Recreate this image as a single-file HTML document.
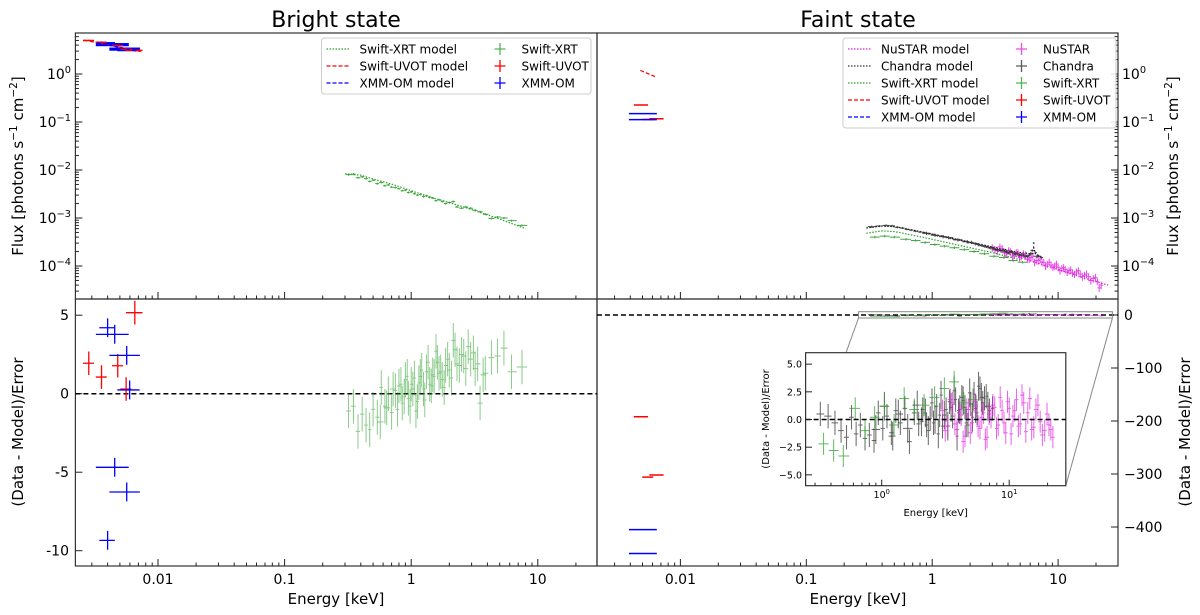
<!DOCTYPE html>
<html><head><meta charset="utf-8"><style>
html,body{margin:0;padding:0;background:#fff;}
svg{display:block;font-family:"DejaVu Sans","Liberation Sans",sans-serif;}
</style></head><body>
<svg id="fig" width="1200" height="615" viewBox="0 0 1200 615" xmlns="http://www.w3.org/2000/svg">
<defs>
<clipPath id="cLT"><rect x="75.4" y="33" width="521.6" height="266"/></clipPath>
<clipPath id="cLB"><rect x="75.4" y="299" width="521.6" height="267"/></clipPath>
<clipPath id="cRT"><rect x="597" y="33" width="521" height="266"/></clipPath>
<clipPath id="cRB"><rect x="597" y="299" width="521" height="267"/></clipPath>
<clipPath id="cIN"><rect x="805.6" y="352.7" width="260.2" height="133"/></clipPath>
</defs>
<g id="root"></g>
</svg>
<script>
// ---------- DATA ----------
const brUvotE = [0.00284,0.00358,0.00481,0.0056,0.00656];
const brUvotXerr = [0.1,0.1,0.1,0.1,0.15];
const brUvotF = [5.0,4.6,3.9,3.3,3.1];
const brUvotRes = [1.94,1.06,1.78,0.3,5.16];
const brOmE = [0.0040,0.00455,0.00566,0.00597,0.00455,0.00566,0.0040];
const brOmXerr = [0.14,0.29,0.27,0.2,0.29,0.27,0.14];
const brOmF = [4.3,4.1,3.3,3.2,4.1,3.3,4.3];
const brOmRes = [4.2,3.78,2.44,0.24,-4.69,-6.26,-9.34];
const brXrtE = [0.32,0.35,0.38,0.41,0.44,0.47,0.50,0.54,0.58,0.62,0.66,0.70,0.75,0.80,0.85,0.90,0.95,1.00,1.06,1.12,1.18,1.25,1.32,1.40,1.48,1.57,1.66,1.76,1.87,2.00,2.15,2.30,2.50,2.70,2.95,3.20,3.50,3.85,4.30,4.80,5.40,6.20,7.50];
const brXrtF = [0.0080,0.0082,0.0069,0.0072,0.0066,0.0058,0.0061,0.0052,0.0055,0.0047,0.0049,0.0044,0.0043,0.0041,0.0037,0.0038,0.0034,0.0035,0.0032,0.0030,0.0031,0.0028,0.0029,0.0027,0.0026,0.0023,0.0024,0.0022,0.0020,0.0021,0.0022,0.0017,0.0016,0.0017,0.0016,0.00145,0.00135,0.0012,0.00098,0.00105,0.0010,0.00088,0.00070];
const brXrtRes = [-1.1,-0.8,-2.4,-1.3,-2.0,-2.3,-1.0,-1.5,0.4,-0.8,0.0,-1.2,0.2,0.5,-0.6,0.9,-0.3,0.6,1.0,-0.5,1.1,0.3,1.4,0.6,1.2,2.7,1.3,0.9,1.8,1.5,3.4,1.9,2.5,1.6,2.2,1.6,-0.6,1.3,2.3,2.4,2.9,1.4,1.7];
const brXrt2E = [0.57,0.64,0.72,0.78,0.83,0.88,0.93,0.98,1.03,1.09,1.15,1.21,1.28,1.36,1.44,1.52,1.61,1.71,1.82,1.94,2.08,2.22,2.4,2.6,2.82,3.1,3.35,3.7];
const brXrt2Res = [-1.8,-0.9,0.3,-1.0,0.6,-0.2,1.1,-0.8,0.3,-1.1,0.7,1.5,-0.4,2.0,0.5,1.1,2.0,1.4,0.4,2.2,1.0,2.8,1.8,2.4,3.0,2.6,1.9,1.2];
const brXrtModE = [0.3,0.4,0.5,0.7,1,1.5,2,3,5,8];
const brXrtModF = [0.0083,0.0078,0.0065,0.0051,0.0037,0.0026,0.0021,0.0015,0.00095,0.0006];
const brUvotModE = [0.0026,0.0075];
const brUvotModF = [5.1,2.9];
const brOmModE = [0.0033,0.0068];
const brOmModF = [4.5,3.0];
const fnUvotE = [0.0049,0.00651,0.00553];
const fnUvotXerr = [0.13,0.13,0.1];
const fnUvotF = [0.226,0.117,0.113];
const fnUvotRes = [-192,-302,-306];
const fnOmE = [0.0052,0.0052];
const fnOmXerr = [0.25,0.25];
const fnOmF = [0.149,0.112];
const fnOmRes = [-405,-450];
const fnUvotModE = [0.0048,0.0063];
const fnUvotModF = [1.19,0.88];
const chE = [0.33,0.38,0.43,0.48,0.53,0.58,0.63,0.68,0.74,0.80,0.87,0.94,1.02,1.10,1.19,1.29,1.40,1.52,1.65,1.80,1.95,2.10,2.25,2.40,2.55,2.70,2.85,3.00,3.20,3.40,3.60,3.80,4.00,4.25,4.50,4.75,5.00,5.30,5.60,5.90,6.20,6.40,6.60,7.00,7.40];
const chF = [0.00066,0.00068,0.00070,0.00069,0.00064,0.00062,0.00058,0.00056,0.00053,0.00051,0.00049,0.00047,0.00045,0.00043,0.00042,0.00040,0.00038,0.00036,0.00035,0.00033,0.00031,0.00030,0.00029,0.00027,0.00026,0.00025,0.00024,0.00024,0.00022,0.00022,0.00021,0.00020,0.00019,0.00020,0.00018,0.00018,0.00017,0.00017,0.00016,0.00017,0.00021,0.00030,0.00019,0.00016,0.00015];
const chRes = [0.5,0.3,-0.3,-1.0,-1.6,0.2,-1.3,-0.5,-1.7,-1.4,-1.9,0.6,-0.8,0.3,-1.2,0.8,-0.3,1.0,-2.0,0.6,-0.4,0.9,-0.5,0.1,-0.3,1.2,0.4,-0.6,0.9,1.6,0.3,1.8,0.8,2.0,1.1,-0.5,1.4,2.3,0.6,2.8,1.5,1.9,2.1,0.8,1.0];
const ch2E = [0.9,1.05,1.22,1.35,1.6,1.9,2.05,2.2,2.32,2.48,2.62,2.78,2.92,3.1,3.3,3.5,3.7,3.9,4.1,4.35,4.6,4.9,5.15,5.45,5.75,6.05,6.8];
const ch2F = [0.00048,0.00044,0.00041,0.00039,0.00035,0.00032,0.00031,0.00029,0.00028,0.00027,0.00026,0.00025,0.00024,0.00023,0.00022,0.00021,0.00021,0.00020,0.00019,0.00019,0.00018,0.00017,0.00017,0.00016,0.00016,0.00018,0.00016];
const ch2Res = [-0.9,1.2,-1.5,0.5,-0.8,1.3,-0.2,0.6,-1.0,1.5,0.0,-1.3,2.2,0.4,-0.6,1.1,2.6,-1.5,0.9,1.7,-0.3,2.4,0.2,1.0,3.0,2.0,1.2];
const fxE = [0.35,0.42,0.50,0.62,0.74,0.88,1.05,1.25,1.5,1.8,2.15,2.6,3.1,3.7,4.4,5.2];
const fxF = [0.00040,0.00042,0.00040,0.00036,0.00034,0.00031,0.00028,0.00026,0.00024,0.00022,0.00020,0.00018,0.00016,0.00015,0.00013,0.00012];
const fxRes = [-2.2,-2.8,-3.3,1.0,-1.0,0.2,1.2,-0.5,1.9,0.9,1.3,2.0,2.8,3.4,1.5,1.8];
const nuE = [3.0,3.3,3.6,3.9,4.2,4.5,4.8,5.1,5.5,5.9,6.3,6.7,7.2,7.7,8.2,8.8,9.4,10.0,10.7,11.4,12.2,13.0,14.0,15.0,16.2,17.5,19.0,20.5,22.0];
const nuF = [0.00024,0.00021,0.00023,0.00018,0.00020,0.00017,0.00019,0.00016,0.00017,0.00014,0.00016,0.00013,0.00014,0.00012,0.00011,0.000105,0.00010,0.000095,0.00009,0.000085,0.00008,0.000072,0.000075,0.000068,0.000064,0.00006,0.000055,0.000048,0.00004];
const nuRes = [0.8,-0.6,1.5,-0.9,0.4,-1.5,0.9,-0.3,1.2,-0.8,0.6,-1.6,0.2,1.1,-0.5,0.8,-1.2,1.0,0.3,1.8,-0.4,1.5,0.6,-0.9,0.9,-0.2,-1.0,-0.5,-1.6];
const nuBE = [3.15,3.45,3.75,4.05,4.35,4.65,4.95,5.3,5.7,6.1,6.5,6.95,7.45,7.95,8.5,9.1,9.7,10.35,11.05,11.8,12.6,13.5,14.5,15.6,16.8,18.2,19.8,21.2];
const nuBF = [0.00022,0.00025,0.00019,0.00021,0.00016,0.00019,0.00015,0.00018,0.00014,0.00015,0.00012,0.00013,0.00012,0.00010,0.00012,0.000095,0.00011,0.00008,0.000092,0.000075,0.000083,0.000068,0.00008,0.00006,0.000068,0.00005,0.000058,0.000035];
const nuBRes = [-1.0,1.8,-0.4,0.6,-2.0,0.9,-1.2,1.6,-0.6,0.2,-1.8,0.5,1.3,-0.8,2.0,-0.3,1.6,-1.3,0.8,-0.6,2.2,-1.1,1.9,-0.7,1.3,-1.4,0.5,-0.9];
const chModE = [0.3,0.4,0.5,0.7,1,2,3,5,6.2,6.4,6.6,7.5];
const chModF = [0.00062,0.00068,0.00066,0.00056,0.00046,0.00031,0.00025,0.00019,0.00018,0.00024,0.00018,0.00015];
const fxModE = [0.3,0.4,0.5,0.7,1,2,3,5];
const fxModF = [0.00048,0.00054,0.00052,0.00044,0.00036,0.00024,0.00019,0.000135];
const nuModE = [3,5,10,20,25];
const nuModF = [0.00022,0.00015,0.000085,0.000047,0.00004];
const xTickVals = [0.01,0.1,1,10];
const xTickLabels = ["0.01","0.1","1","10"];
const fluxTickExp = [0,-1,-2,-3,-4];
const resLTicks = [5,0,-5,-10];
const resRTicks = [0,-100,-200,-300,-400];
const insetYTicks = [5.0,2.5,0.0,-2.5,-5.0];
const insetXExp = [0,1];

// ---------- AXES ----------
const L10 = Math.log10;
function xL(E){ return 158 + (L10(E)+2)*126.6; }
function xR(E){ return 680.4 + (L10(E)+2)*125.9; }
function yFlux(F){ return 74 - L10(F)*48; }
function yResL(r){ return 393.7 - r*15.7; }
function yResR(r){ return 315 - r*0.53; }
function xI(E){ return 881.7 + L10(E)*127.5; }
function yI(r){ return 419.5 - r*11.07; }

const NS = "http://www.w3.org/2000/svg";
const root = document.getElementById('root');
function el(tag, attrs, parent){
  const e = document.createElementNS(NS, tag);
  for (const k in attrs) e.setAttribute(k, attrs[k]);
  (parent||root).appendChild(e);
  return e;
}
function grp(clip, name){
  const g = el('g', clip ? {'clip-path':'url(#'+clip+')'} : {});
  
  
  return g;
}
function cross(g, x1, x2, xc, y, y1, y2, color, w, name, op){
  const p = el('path', {d:'M'+x1+' '+y+'H'+x2+'M'+xc+' '+y1+'V'+y2, stroke:color, 'stroke-width':w, fill:'none', opacity:op||1}, g);
  
  
}
function bounds(E, i){
  const lo = i>0 ? Math.sqrt(E[i-1]*E[i]) : E[i]*E[i]/Math.sqrt(E[i]*E[i+1]);
  const hi = i<E.length-1 ? Math.sqrt(E[i+1]*E[i]) : E[i]*E[i]/Math.sqrt(E[i]*E[i-1]);
  return [lo, hi];
}
function series(g, E, V, xf, yf, color, w, name, vErr, op, xerrFrac){
  for (let i=0;i<E.length;i++){
    let lo, hi;
    if (xerrFrac){ lo = E[i]*(1-xerrFrac[i]); hi = E[i]*(1+xerrFrac[i]); }
    else { [lo,hi] = bounds(E,i); }
    const y1 = vErr.mul ? yf(V[i]*(1+vErr.mul)) : yf(V[i]+vErr.add);
    const y2 = vErr.mul ? yf(V[i]*(1-vErr.mul)) : yf(V[i]-vErr.add);
    cross(g, xf(lo), xf(hi), xf(E[i]), yf(V[i]), y1, y2, color, w, name, op);
  }
}
function line(g, E, F, xf, yf, color, dash, name, w){
  let d='';
  for (let i=0;i<E.length;i++) d += (i?'L':'M')+xf(E[i]).toFixed(2)+' '+yf(F[i]).toFixed(2);
  const p = el('path', {d:d, stroke:color, 'stroke-width':w||1.2, fill:'none', 'stroke-dasharray':dash}, g);
  
  
}
function txt(x, y, s, attrs, name){
  const t = el('text', Object.assign({x:x, y:y, fill:'#000'}, attrs||{}));
  t.textContent = s;
  
  
  return t;
}
function powLabel(x, y, exp, anchor, size, name){
  const t = el('text', {x:x, y:y, 'text-anchor':anchor, 'font-size':size, fill:'#000'});
  
  
  const a = el('tspan', {}, t); a.textContent = '10';
  const b = el('tspan', {dy:-size*0.42, 'font-size':size*0.7}, t); b.textContent = exp<0 ? '\u2212'+(-exp) : ''+exp;
}
function tick(g, x1,y1,x2,y2, name){
  const l = el('line', {x1:x1,y1:y1,x2:x2,y2:y2,stroke:'#222','stroke-width':1}, g);
  
  
}
function xTicks(g, xf, yBase, xmin, xmax){
  for (let d=-3; d<=1; d++){
    for (let m=1;m<=9;m++){
      const v = m*Math.pow(10,d), x = xf(v);
      if (x<xmin+1 || x>xmax-1) continue;
      tick(g, x, yBase, x, yBase-(m===1?7:3.5), m===1?'x-major-tick':'x-minor-tick');
    }
  }
}

// ---------- FRAMES ----------
const frames = grp(null,'panel-frames');
[[75.4,33,521.6,266,'bright-flux-panel'],[75.4,299,521.6,267,'bright-residual-panel'],[597,33,521,266,'faint-flux-panel'],[597,299,521,267,'faint-residual-panel']].forEach(r=>{
  const e = el('rect',{x:r[0],y:r[1],width:r[2],height:r[3],fill:'none',stroke:'#333','stroke-width':1.2}, frames);
  
  
});

// ---------- TICKS ----------
const tg = grp(null,'axis-ticks');
xTicks(tg, xL, 299, 75.4, 597);
xTicks(tg, xL, 566, 75.4, 597);
xTicks(tg, xR, 299, 597, 1118);
xTicks(tg, xR, 566, 597, 1118);
for (let d=-5; d<=1; d++){
  for (let m=1;m<=9;m++){
    const y = yFlux(m*Math.pow(10,d));
    if (y<34 || y>298) continue;
    const len = m===1?7:3.5;
    tick(tg, 75.4, y, 75.4+len, y, 'y-tick-left');
    tick(tg, 1118, y, 1118-len, y, 'y-tick-right');
  }
}
resLTicks.forEach(v=>{ tick(tg, 75.4, yResL(v), 82.4, yResL(v), 'res-left-tick'); txt(69, yResL(v)+5, v<0?'-'+(-v):''+v, {'text-anchor':'end','font-size':14}, 'res-left-tick-label'); });
resRTicks.forEach(v=>{ tick(tg, 1118, yResR(v), 1111, yResR(v), 'res-right-tick'); txt(1124, yResR(v)+5, v<0?'\u2212'+(-v):''+v, {'font-size':14}, 'res-right-tick-label'); });
fluxTickExp.forEach(e=>{
  powLabel(71, yFlux(Math.pow(10,e))+5, e, 'end', 14, 'flux-left-tick-label');
  powLabel(1122, yFlux(Math.pow(10,e))+5, e, 'start', 14, 'flux-right-tick-label');
});
xTickVals.forEach((v,i)=>{
  txt(xL(v), 584, xTickLabels[i], {'text-anchor':'middle','font-size':14}, 'x-tick-label-bright');
  txt(xR(v), 584, xTickLabels[i], {'text-anchor':'middle','font-size':14}, 'x-tick-label-faint');
});

// ---------- TITLES / LABELS ----------
txt(336, 27, 'Bright state', {'text-anchor':'middle','font-size':22}, 'bright-title');
txt(858, 27, 'Faint state', {'text-anchor':'middle','font-size':22}, 'faint-title');
txt(336, 604, 'Energy [keV]', {'text-anchor':'middle','font-size':15}, 'x-axis-title-bright');
txt(858, 604, 'Energy [keV]', {'text-anchor':'middle','font-size':15}, 'x-axis-title-faint');
function rotLabel(x, y, parts, name){
  const t = el('text', {x:0, y:0, 'text-anchor':'middle', 'font-size':15, fill:'#000', transform:'translate('+x+','+y+') rotate(-90)'});
  
  
  parts.forEach(p=>{ const s = el('tspan', p[1]?{dy:p[1],'font-size':p[2]}:{}, t); s.textContent = p[0]; });
}
const fluxParts = [['Flux [photons s'],['\u22121',-6,10.5],[' cm',6,15],['\u22122',-6,10.5],[']',6,15]];
rotLabel(23, 166, fluxParts, 'y-axis-title-flux-left');
rotLabel(1178, 166, fluxParts, 'y-axis-title-flux-right');
rotLabel(23, 432, [['(Data - Model)/Error']], 'y-axis-title-res-left');
rotLabel(1190, 432, [['(Data - Model)/Error']], 'y-axis-title-res-right');

// ---------- BRIGHT FLUX ----------
const GR = '#2ca02c', RD = '#ff0000', BL = '#0000ff', MG = '#e020e0', BK = '#333';
const gBT = grp('cLT','bright-flux-data');
line(gBT, brXrtModE, brXrtModF, xL, yFlux, GR, '1.5,1.5', 'xrt-model-bright');
series(gBT, brXrtE, brXrtF, xL, yFlux, GR, 1, 'xrt-point-bright', {mul:0.05}, 0.9);
series(gBT, brOmE, brOmF, xL, yFlux, BL, 3, 'om-point-bright', {mul:0.03}, 1, brOmXerr);
series(gBT, brUvotE, brUvotF, xL, yFlux, RD, 1.5, 'uvot-point-bright', {mul:0.04}, 1, brUvotXerr);
line(gBT, brUvotModE, brUvotModF, xL, yFlux, RD, '4,2', 'uvot-model-bright');
line(gBT, brOmModE, brOmModF, xL, yFlux, BL, '4,2', 'om-model-bright');

// ---------- BRIGHT RESIDUALS ----------
const gBB = grp('cLB','bright-residual-data');
const z1 = el('line',{x1:75.4,x2:597,y1:yResL(0),y2:yResL(0),stroke:'#000','stroke-width':1.5,'stroke-dasharray':'5,3'}, gBB);


series(gBB, brXrtE, brXrtRes, xL, yResL, GR, 1, 'xrt-residual-bright', {add:1.1}, 0.55);
series(gBB, brXrt2E, brXrt2Res, xL, yResL, GR, 1, 'xrt-residual-bright-2', {add:1.1}, 0.55);
series(gBB, brUvotE, brUvotRes, xL, yResL, RD, 1.3, 'uvot-residual-bright', {add:0.75}, 1, brUvotXerr);
series(gBB, brOmE, brOmRes, xL, yResL, BL, 1.3, 'om-residual-bright', {add:0.6}, 1, brOmXerr);

// ---------- FAINT FLUX ----------
const gFT = grp('cRT','faint-flux-data');
line(gFT, fxModE, fxModF, xR, yFlux, GR, '1.5,1.5', 'xrt-model-faint');
line(gFT, chModE, chModF, xR, yFlux, '#000', '1.5,1.5', 'chandra-model-faint');
line(gFT, nuModE, nuModF, xR, yFlux, MG, '1.5,1.5', 'nustar-model-faint');
series(gFT, fxE, fxF, xR, yFlux, GR, 1, 'xrt-point-faint', {mul:0.06}, 0.9);
series(gFT, nuE, nuF, xR, yFlux, MG, 1, 'nustar-point-faint', {mul:0.18}, 0.8);
series(gFT, nuBE, nuBF, xR, yFlux, MG, 1, 'nustar-b-point-faint', {mul:0.18}, 0.8);
series(gFT, chE, chF, xR, yFlux, BK, 1, 'chandra-point-faint', {mul:0.05}, 0.9);
series(gFT, ch2E, ch2F, xR, yFlux, BK, 1, 'chandra-2-point-faint', {mul:0.08}, 0.9);
series(gFT, fnUvotE, fnUvotF, xR, yFlux, RD, 1.5, 'uvot-point-faint', {mul:0.01}, 1, fnUvotXerr);
series(gFT, fnOmE, fnOmF, xR, yFlux, BL, 1.5, 'om-point-faint', {mul:0.01}, 1, fnOmXerr);
line(gFT, fnUvotModE, fnUvotModF, xR, yFlux, RD, '4,2', 'uvot-model-faint');

// ---------- FAINT RESIDUALS ----------
const gFB = grp('cRB','faint-residual-data');
const z2 = el('line',{x1:597,x2:1118,y1:yResR(0),y2:yResR(0),stroke:'#000','stroke-width':1.5,'stroke-dasharray':'5,3'}, gFB);


series(gFB, fnUvotE, fnUvotRes, xR, yResR, RD, 1.5, 'uvot-residual-faint', {add:0.5}, 1, fnUvotXerr);
series(gFB, fnOmE, fnOmRes, xR, yResR, BL, 1.5, 'om-residual-faint', {add:0.5}, 1, fnOmXerr);
series(gFB, chE, chRes, xR, yResR, BK, 0.8, 'chandra-residual-mini', {add:1}, 0.8);
series(gFB, fxE, fxRes, xR, yResR, GR, 0.8, 'xrt-residual-mini', {add:1}, 0.8);
series(gFB, nuE, nuRes, xR, yResR, MG, 0.8, 'nustar-residual-mini', {add:1}, 0.8);
const zr = el('rect',{x:xR(0.26),y:311.7,width:xR(27)-xR(0.26),height:6.3,fill:'none',stroke:'#888','stroke-width':1}, gFB);


const c1 = el('line',{x1:xR(0.26),y1:318,x2:846,y2:352.7,stroke:'#888','stroke-width':1});


const c2 = el('line',{x1:xR(27),y1:318,x2:1065.8,y2:485.7,stroke:'#888','stroke-width':1});



// ---------- INSET ----------
const ib = el('rect',{x:805.6,y:352.7,width:260.2,height:133,fill:'#fff',stroke:'#333','stroke-width':1.2});


const gI = grp('cIN','inset-data');
series(gI, chE, chRes, xI, yI, BK, 1, 'chandra-residual', {add:1.1}, 0.75);
series(gI, ch2E, ch2Res, xI, yI, BK, 1, 'chandra-residual-2', {add:1.3}, 0.75);
series(gI, nuE, nuRes, xI, yI, MG, 1, 'nustar-residual', {add:1}, 0.7);
series(gI, nuBE, nuBRes, xI, yI, MG, 1, 'nustar-b-residual', {add:1}, 0.7);
series(gI, fxE, fxRes, xI, yI, GR, 1, 'xrt-residual-faint', {add:1}, 0.75);
const z3 = el('line',{x1:805.6,x2:1065.8,y1:yI(0),y2:yI(0),stroke:'#000','stroke-width':1.5,'stroke-dasharray':'5,3'}, gI);


const itg = grp(null,'inset-ticks');
insetYTicks.forEach(v=>{ tick(itg, 805.6, yI(v), 812, yI(v), 'inset-y-tick'); txt(802, yI(v)+3.5, v<0?'\u2212'+(-v).toFixed(1):v.toFixed(1), {'text-anchor':'end','font-size':9.5}, 'inset-y-tick-label'); });
for (let d=-1; d<=1; d++) for (let m=1;m<=9;m++){
  const x = xI(m*Math.pow(10,d));
  if (x<806.6 || x>1064.8) continue;
  tick(itg, x, 485.7, x, 485.7-(m===1?6:3), 'inset-x-tick');
}
insetXExp.forEach(e=> powLabel(xI(Math.pow(10,e)), 498, e, 'middle', 9.5, 'inset-x-tick-label'));
txt(935.7, 516, 'Energy [keV]', {'text-anchor':'middle','font-size':10}, 'inset-x-title');
const it = el('text',{x:0,y:0,'text-anchor':'middle','font-size':10,fill:'#000',transform:'translate(769,419) rotate(-90)'});
it.textContent = '(Data - Model)/Error';



// ---------- LEGENDS ----------
function legend(x, y, w, entries, name){
  const g = grp(null, name);
  const b = el('rect',{x:x,y:y,width:w,height:entries.length*17+5,rx:3,fill:'#fff','fill-opacity':0.85,stroke:'#ccc','stroke-width':1}, g);
  
  
  entries.forEach((en,i)=>{
    const yy = y+11+i*17;
    const hl = el('line',{x1:x+5,x2:x+29,y1:yy,y2:yy,stroke:en[1],'stroke-width':1.3,'stroke-dasharray':en[2]}, g);
    
    
    txt(x+38, yy+4.5, en[0]+' model', {'font-size':12}, 'legend-model-label');
    cross(g, x+173, x+184, x+178.5, yy, yy-6, yy+6, en[1], 1.3, 'legend-data-marker', en[3]);
    txt(x+200, yy+4.5, en[0], {'font-size':12}, 'legend-data-label');
  });
}
legend(321.5, 38, 269.5, [['Swift-XRT',GR,'1.5,1.5',0.8],['Swift-UVOT',RD,'4,2',1],['XMM-OM',BL,'4,2',1]], 'legend-bright');
legend(843, 38, 273, [['NuSTAR',MG,'1.5,1.5',0.8],['Chandra','#333','1.5,1.5',0.8],['Swift-XRT',GR,'1.5,1.5',0.8],['Swift-UVOT',RD,'4,2',1],['XMM-OM',BL,'4,2',1]], 'legend-faint');
</script>
</body></html>
